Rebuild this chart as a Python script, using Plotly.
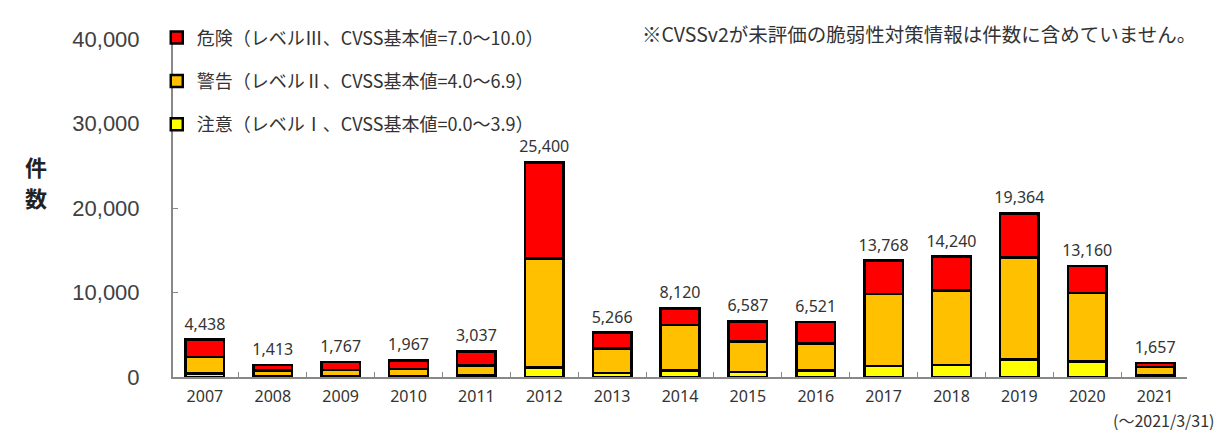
import plotly.graph_objects as go

years = ["2007", "2008", "2009", "2010", "2011", "2012", "2013", "2014",
         "2015", "2016", "2017", "2018", "2019", "2020", "2021"]
low = [438, 103, 147, 147, 187, 1150, 466, 780, 617, 761, 1298, 1400, 2100, 1810, 157]
medium = [1900, 640, 660, 780, 1150, 12900, 2900, 5390, 3570, 3190, 8520, 8860, 12014, 8140, 1050]
high = [2100, 670, 960, 1040, 1700, 11350, 1900, 1950, 2400, 2570, 3950, 3980, 5250, 3210, 450]
totals = [4438, 1413, 1767, 1967, 3037, 25400, 5266, 8120, 6587, 6521, 13768, 14240, 19364, 13160, 1657]

names = {
    "low": "注意（レベルⅠ、CVSS基本値=0.0～3.9）",
    "medium": "警告（レベルⅡ、CVSS基本値=4.0～6.9）",
    "high": "危険（レベルⅢ、CVSS基本値=7.0～10.0）",
}
colors = {"low": "#FFFF00", "medium": "#FFC000", "high": "#FF0000"}
ranks = {"low": 3, "medium": 2, "high": 1}

JP = "Noto Sans CJK JP"

fig = go.Figure()
for key, vals in (("low", low), ("medium", medium), ("high", high)):
    fig.add_trace(go.Bar(
        x=years, y=vals, name=names[key], legendgroup=key,
        legendrank=ranks[key],
        marker=dict(color=colors[key], line=dict(color="#000000", width=2.5)),
        width=0.57,
    ))

fig.add_trace(go.Scatter(
    x=years, y=totals, mode="markers+text",
    marker=dict(size=8, opacity=0),
    text=[f"{v:,}" for v in totals], textposition="top center",
    textfont=dict(family="Noto Sans", size=16, color="#333333"),
    showlegend=False, hoverinfo="skip",
))

fig.update_layout(
    width=1222, height=430,
    margin=dict(l=165, r=43, t=30, b=61),
    paper_bgcolor="white", plot_bgcolor="white",
    barmode="stack",
    showlegend=True,
    legend=dict(
        x=-0.016, y=1.055, xanchor="left", yanchor="top",
        traceorder="grouped", tracegroupgap=17,
        font=dict(family=JP, size=18, color="#333333"),
        bgcolor="rgba(0,0,0,0)", itemwidth=30,
    ),
    xaxis=dict(
        type="category", range=[-0.47, 14.47],
        showline=True, linecolor="#888888", linewidth=2,
        ticks="inside", tickson="boundaries", ticklen=5, tickcolor="#888888",
        tickfont=dict(family="Noto Sans", size=16, color="#333333"),
        ticklabelstandoff=4,
        showgrid=False,
    ),
    yaxis=dict(
        range=[0, 40000], dtick=10000, tickformat=",",
        showline=True, linecolor="#888888", linewidth=2,
        ticks="inside", ticklen=5, tickcolor="#888888",
        tickfont=dict(family="Liberation Sans", size=22, color="#404040"),
        ticklabelstandoff=27,
        showgrid=False, zeroline=False,
    ),
    annotations=[
        dict(text="<b>件</b>", xref="paper", yref="paper",
             x=-0.135, y=0.625, xanchor="center", yanchor="middle",
             showarrow=False,
             font=dict(family=JP, size=22, color="#222222")),
        dict(text="<b>数</b>", xref="paper", yref="paper",
             x=-0.135, y=0.532, xanchor="center", yanchor="middle",
             showarrow=False,
             font=dict(family=JP, size=22, color="#222222")),
        dict(text="※CVSSv2が未評価の脆弱性対策情報は件数に含めていません。",
             xref="paper", yref="paper", x=0.4606, y=1.015,
             xanchor="left", yanchor="middle", showarrow=False,
             font=dict(family=JP, size=19.5, color="#333333")),
        dict(text="(～2021/3/31)", xref="paper", yref="paper",
             x=1.03, y=-0.128, xanchor="right", yanchor="middle",
             showarrow=False,
             font=dict(family=JP, size=16, color="#333333")),
    ],
)

fig.write_html("out.html")
